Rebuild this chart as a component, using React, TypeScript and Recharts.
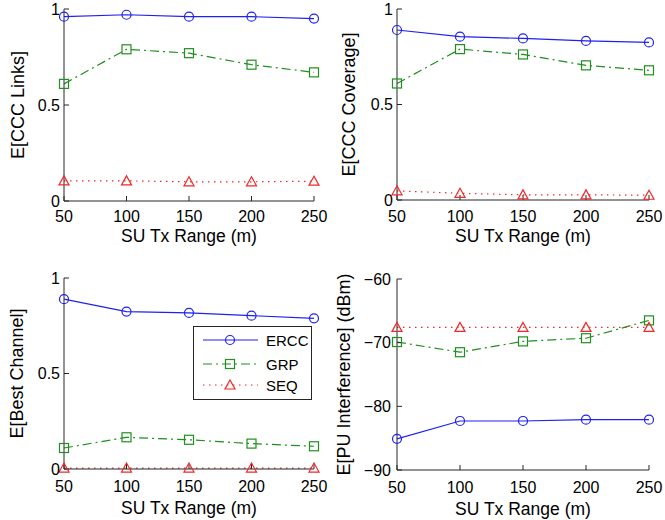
import React from "react";
import { Legend, Line, LineChart, XAxis, YAxis } from "recharts";

const txRange = [50, 100, 150, 200, 250];
const xTicks = [50, 100, 150, 200, 250];
const unitTicks = [0, 0.5, 1];
const dbmTicks = [-90, -80, -70, -60];

const linksErcc = [0.96, 0.97, 0.96, 0.96, 0.95];
const linksGrp = [0.61, 0.79, 0.77, 0.71, 0.67];
const linksSeq = [0.105, 0.105, 0.1, 0.1, 0.103];

const coverageErcc = [0.89, 0.855, 0.846, 0.833, 0.825];
const coverageGrp = [0.61, 0.79, 0.762, 0.705, 0.679];
const coverageSeq = [0.048, 0.035, 0.027, 0.027, 0.025];

const bestErcc = [0.889, 0.824, 0.817, 0.803, 0.789];
const bestGrp = [0.11, 0.166, 0.153, 0.133, 0.119];
const bestSeq = [0.005, 0.005, 0.005, 0.005, 0.005];

const interfErcc = [-85.1, -82.3, -82.3, -82.1, -82.1];
const interfGrp = [-69.9, -71.5, -69.8, -69.3, -66.5];
const interfSeq = [-67.6, -67.6, -67.6, -67.6, -67.6];

const BLUE = "#2020f0";
const GREEN = "#1f8f1f";
const RED = "#f02828";
const AXIS = "#262626";
const FONT = "'Liberation Sans', Arial, sans-serif";

const toRows = (ercc: number[], grp: number[], seq: number[]) =>
  txRange.map((x, i) => ({ x, ercc: ercc[i], grp: grp[i], seq: seq[i] }));

const fmt = (v: number) => String(v).replace("-", "\u2212");

const circleDot = (p: any) => (
  <circle key={p.key} cx={p.cx} cy={p.cy} r={4.5} fill="none" stroke={BLUE} strokeWidth={1.2} />
);
const squareDot = (p: any) => (
  <rect key={p.key} x={p.cx - 4.5} y={p.cy - 4.5} width={9} height={9} fill="none" stroke={GREEN} strokeWidth={1.2} />
);
const triangleDot = (p: any) => (
  <polygon
    key={p.key}
    points={`${p.cx},${p.cy - 5} ${p.cx - 5},${p.cy + 4} ${p.cx + 5},${p.cy + 4}`}
    fill="none"
    stroke={RED}
    strokeWidth={1.2}
  />
);

function LegendBox() {
  const rows = [
    { name: "ERCC", color: BLUE, dash: undefined, y: 14 },
    { name: "GRP", color: GREEN, dash: "9 4 2 4", y: 38 },
    { name: "SEQ", color: RED, dash: "1.5 4.5", y: 59 },
  ];
  return (
    <svg width={119} height={74} style={{ display: "block" }}>
      <rect x={0.5} y={0.5} width={118} height={73} fill="#fff" stroke={AXIS} strokeWidth={1} />
      {rows.map((r) => (
        <g key={r.name}>
          <line x1={10} x2={65} y1={r.y} y2={r.y} stroke={r.color} strokeWidth={1.2} strokeDasharray={r.dash} />
          {r.name === "ERCC" && circleDot({ cx: 37, cy: r.y })}
          {r.name === "GRP" && squareDot({ cx: 37, cy: r.y })}
          {r.name === "SEQ" && triangleDot({ cx: 37, cy: r.y })}
          <text x={73} y={r.y + 5.5} fontSize={15} fill="#000" fontFamily={FONT}>
            {r.name}
          </text>
        </g>
      ))}
    </svg>
  );
}

interface PanelProps {
  left: number;
  top: number;
  width: number;
  height: number;
  plot: { x0: number; x1: number; y0: number; y1: number };
  data: Array<{ x: number; ercc: number; grp: number; seq: number }>;
  domain: [number, number];
  yTicks: number[];
  yTitle: string;
  yTitleX: number;
  yTickMargin: number;
  xTickMargin: number;
  xTitleOffset: number;
  legend?: boolean;
}

function Panel(props: PanelProps) {
  const { left, top, width, height, plot, data, domain, yTicks } = props;
  const xAxisH = 50;
  const tickStyle = { fontSize: 16, fill: "#000", fontFamily: FONT };
  return (
    <div style={{ position: "absolute", left, top, width, height }}>
      <LineChart
        width={width}
        height={height}
        data={data}
        margin={{ top: plot.y0, left: 0, right: width - plot.x1, bottom: height - plot.y1 - xAxisH }}
      >
        <XAxis
          xAxisId="b"
          dataKey="x"
          type="number"
          domain={[50, 250]}
          ticks={xTicks}
          interval={0}
          height={xAxisH}
          tickSize={-5}
          tickMargin={props.xTickMargin}
          tick={tickStyle}
          stroke={AXIS}
          label={{
            value: "SU Tx Range (m)",
            position: "insideTop",
            offset: props.xTitleOffset,
            style: { fontSize: 17.5, fill: "#000", fontFamily: FONT },
          }}
        />
        <XAxis
          xAxisId="t"
          dataKey="x"
          type="number"
          orientation="top"
          domain={[50, 250]}
          ticks={xTicks}
          interval={0}
          height={0}
          tickSize={-5}
          tick={false}
          stroke={AXIS}
        />
        <YAxis
          yAxisId="l"
          type="number"
          domain={domain}
          ticks={yTicks}
          interval={0}
          width={plot.x0}
          tickSize={-5}
          tickMargin={props.yTickMargin}
          tick={tickStyle}
          tickFormatter={fmt}
          stroke={AXIS}
          label={{
            value: props.yTitle,
            angle: -90,
            position: "insideLeft",
            offset: props.yTitleX,
            style: { fontSize: 18, fill: "#000", fontFamily: FONT, textAnchor: "middle" },
          }}
        />
        <YAxis
          yAxisId="r"
          type="number"
          orientation="right"
          domain={domain}
          ticks={yTicks}
          interval={0}
          width={0}
          tickSize={-5}
          tick={false}
          stroke={AXIS}
        />
        <Line
          xAxisId="b"
          yAxisId="l"
          dataKey="ercc"
          name="ERCC"
          stroke={BLUE}
          strokeWidth={1.2}
          dot={circleDot}
          activeDot={false}
          isAnimationActive={false}
        />
        <Line
          xAxisId="b"
          yAxisId="l"
          dataKey="grp"
          name="GRP"
          stroke={GREEN}
          strokeWidth={1.2}
          strokeDasharray="9 4 2 4"
          dot={squareDot}
          activeDot={false}
          isAnimationActive={false}
        />
        <Line
          xAxisId="b"
          yAxisId="l"
          dataKey="seq"
          name="SEQ"
          stroke={RED}
          strokeWidth={1.2}
          strokeDasharray="1.5 4.5"
          dot={triangleDot}
          activeDot={false}
          isAnimationActive={false}
        />
        {props.legend && (
          <Legend
            layout="vertical"
            align="center"
            verticalAlign="middle"
            content={() => <LegendBox />}
            wrapperStyle={{ left: 193, top: 66, width: 119, height: 74 }}
          />
        )}
      </LineChart>
    </div>
  );
}

export default function App() {
  return (
    <div style={{ position: "absolute", left: 0, top: 0, width: 665, height: 520, background: "#fff", fontFamily: FONT }}>
      <Panel
        left={0}
        top={0}
        width={330}
        height={260}
        plot={{ x0: 64, x1: 314, y0: 9, y1: 201 }}
        data={toRows(linksErcc, linksGrp, linksSeq)}
        domain={[0, 1]}
        yTicks={unitTicks}
        yTitle="E[CCC Links]"
        yTitleX={18}
        yTickMargin={9}
        xTickMargin={15}
        xTitleOffset={29}
      />
      <Panel
        left={330}
        top={0}
        width={335}
        height={260}
        plot={{ x0: 67, x1: 319, y0: 9, y1: 200 }}
        data={toRows(coverageErcc, coverageGrp, coverageSeq)}
        domain={[0, 1]}
        yTicks={unitTicks}
        yTitle="E[CCC Coverage]"
        yTitleX={19}
        yTickMargin={9}
        xTickMargin={16}
        xTitleOffset={30}
      />
      <Panel
        left={0}
        top={260}
        width={330}
        height={260}
        plot={{ x0: 64, x1: 314, y0: 18, y1: 209 }}
        data={toRows(bestErcc, bestGrp, bestSeq)}
        domain={[0, 1]}
        yTicks={unitTicks}
        yTitle="E[Best Channel]"
        yTitleX={17}
        yTickMargin={9}
        xTickMargin={17}
        xTitleOffset={33}
        legend
      />
      <Panel
        left={330}
        top={260}
        width={335}
        height={260}
        plot={{ x0: 67, x1: 319, y0: 19, y1: 210 }}
        data={toRows(interfErcc, interfGrp, interfSeq)}
        domain={[-90, -60]}
        yTicks={dbmTicks}
        yTitle="E[PU Interference] (dBm)"
        yTitleX={14}
        yTickMargin={11}
        xTickMargin={17}
        xTitleOffset={33}
      />
    </div>
  );
}
